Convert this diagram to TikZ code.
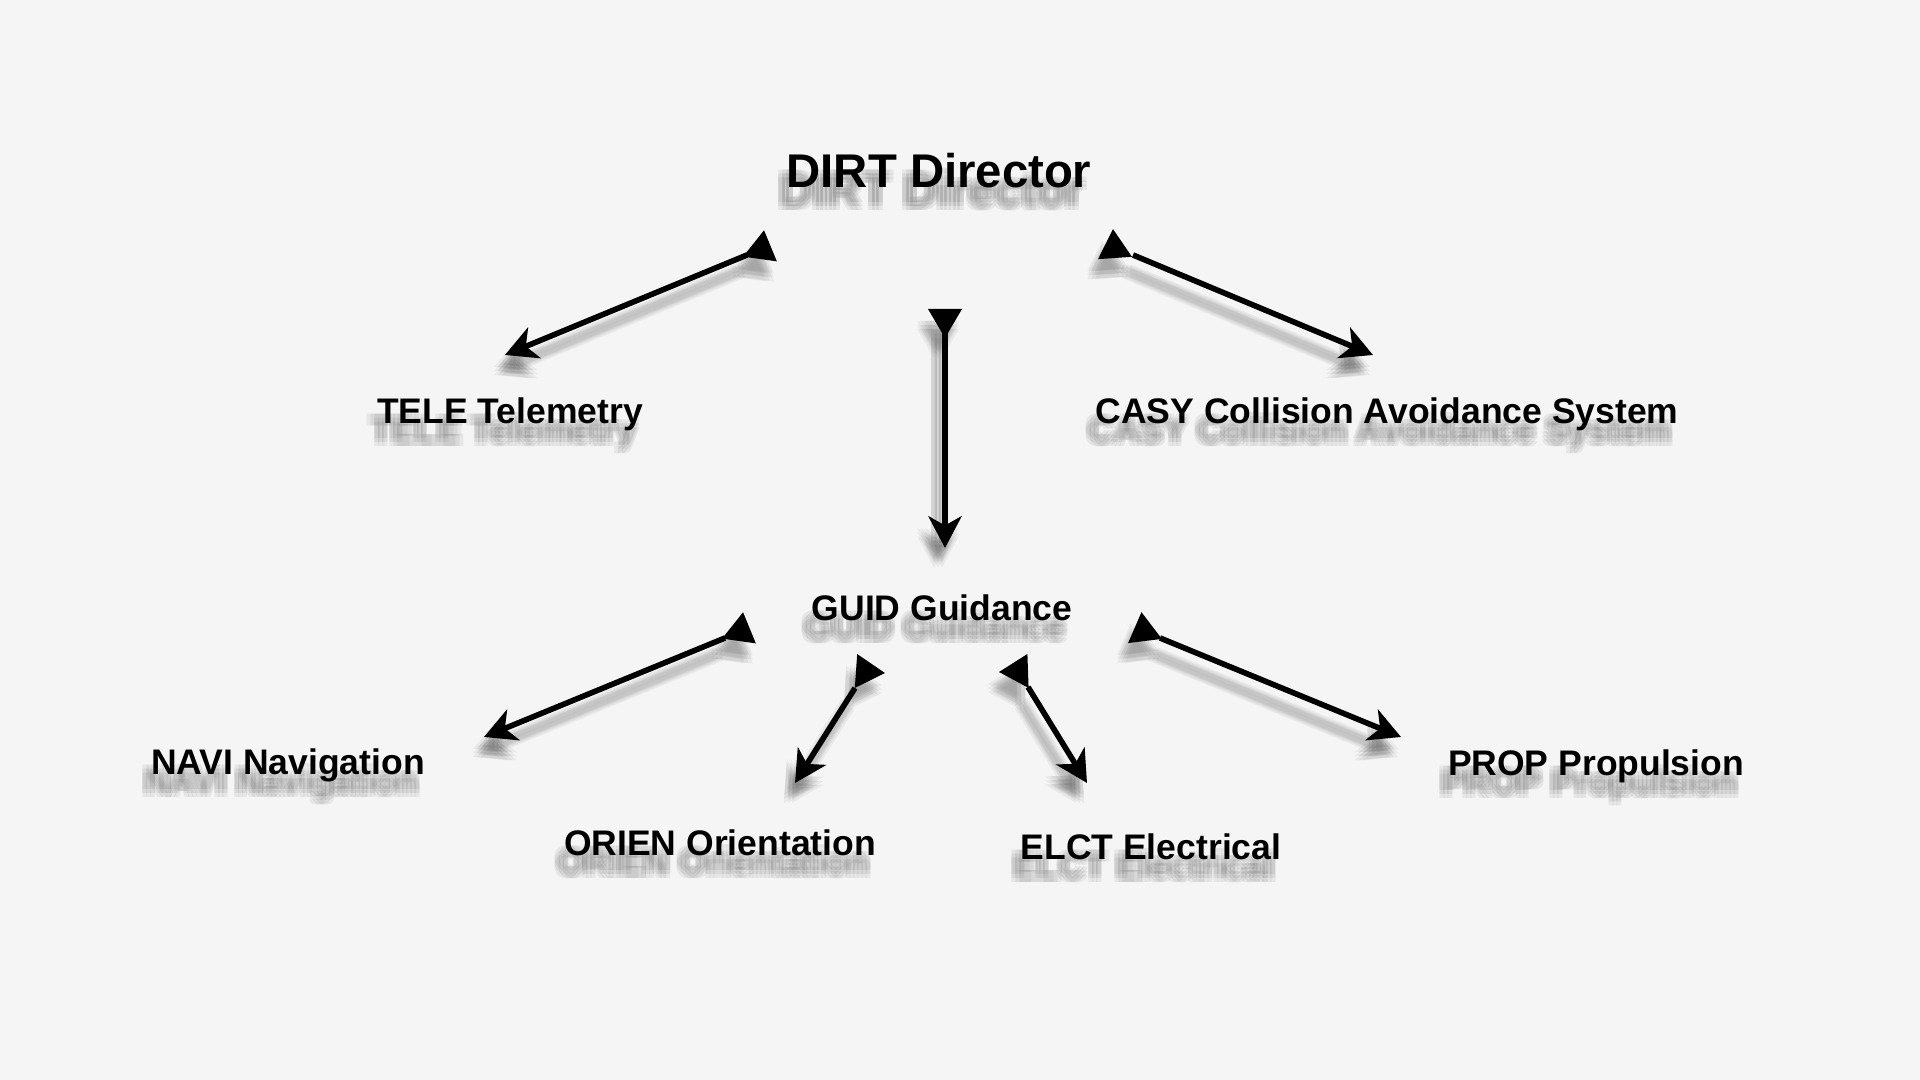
\documentclass[tikz,border=0pt]{standalone}
\usepackage{fontspec}
\setmainfont{Liberation Sans}
\usepackage{xcolor}
\usetikzlibrary{positioning,calc,arrows.meta}
\definecolor{paper}{HTML}{F5F5F5}

\begin{document}
\begin{tikzpicture}[x=0.01cm,y=-0.01cm,
  lbl/.style={anchor=base,inner sep=0pt},
  small/.style={font=\bfseries\fontsize{10.1}{12}\selectfont},
  big/.style={font=\bfseries\fontsize{13.45}{16}\selectfont},
  ghost/.style={text=black!60,opacity=0.1},
  link/.style={line width=1.6pt,-{Stealth[length=9pt,width=9.4pt,inset=2.6pt]}},
  ghost link/.style={link,draw=black!60,fill=black!60,opacity=0.08}]
  \fill[paper] (0,0) rectangle (1920,1080);
  \useasboundingbox (0,0) rectangle (1920,1080);

  % Labels, each with a soft shadow below it
  \foreach \n/\x/\y/\f/\t in {D/939/188/big/DIRT Director,
      T/510/424/small/TELE Telemetry,
      C/1387/424/small/CASY Collision Avoidance System,
      G/942/621/small/GUID Guidance,
      N/288/775/small/NAVI Navigation,
      O/720/856/small/ORIEN Orientation,
      E/1151/860/small/ELCT Electrical,
      P/1596/776/small/PROP Propulsion}{
    \foreach \dx/\dy [count=\i] in {-11/15,-7/15,-3/15,-11/19,-7/19,-3/19,-11/23,-7/23,-3/23}
      \node[lbl,\f,ghost] (\n-s\i) at (\x+\dx,\y+\dy) {\t};
    \node[lbl,\f] (\n) at (\x,\y) {\t};
  }

  % Arrows: start, tip, foot of the start triangle, turn of that triangle
  \foreach \sx/\sy/\ex/\ey/\tx/\ty/\r [count=\k] in {
      747/255/505/355/760/259/-8,
      1133/255/1373/355/1115/258/4,
      945/318/945/548/945/309/180,
      725/638/484/737/739/641/-8,
      855/688/795/783/856/671/-94,
      1028/687/1087/783/1028/671/92,
      1160/638/1401/737/1145/641/7}{
    \coordinate (s\k) at (\sx,\sy);
    \coordinate (e\k) at (\ex,\ey);
    \coordinate (t\k) at (\tx,\ty);
    \foreach \dx/\dy in {-11/12,-7/12,-3/12,-11/16,-7/16,-3/16,-11/20,-7/20,-3/20}{
      \draw[ghost link] ($(s\k)+(\dx,\dy)$) -- ($(e\k)+(\dx,\dy)$);
      \fill[black!60,opacity=0.08,shift={($(t\k)+(\dx,\dy)$)},rotate=\r]
        (-17,0) -- (17,0) -- (0,-29) -- cycle;
    }
    \draw[link] (s\k) -- (e\k);
    \fill[shift={(t\k)},rotate=\r] (-17,0) -- (17,0) -- (0,-29) -- cycle;
  }
\end{tikzpicture}
\end{document}
